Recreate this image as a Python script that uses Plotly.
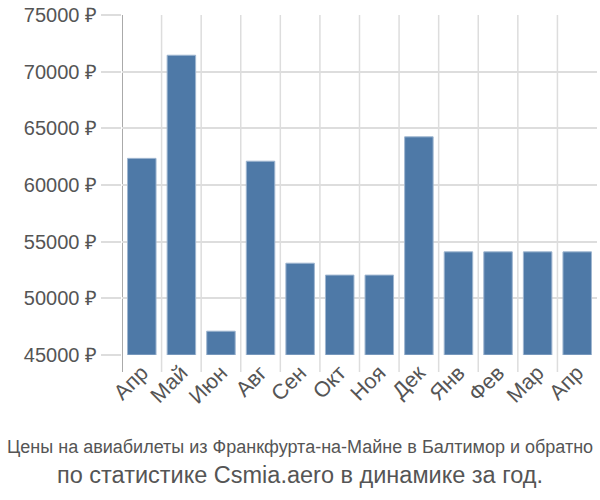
import plotly.graph_objects as go

months = ["Апр", "Май", "Июн", "Авг", "Сен", "Окт", "Ноя", "Дек", "Янв", "Фев", "Мар", "Апр"]
prices = [62350, 71450, 47100, 62100, 53100, 52050, 52050, 64250, 54100, 54100, 54100, 54100]
x_idx = list(range(len(months)))
y_ticks = [45000, 50000, 55000, 60000, 65000, 70000, 75000]

fig = go.Figure()
fig.add_trace(go.Bar(
    x=x_idx, y=[p - 45000 for p in prices], base=45000,
    marker=dict(color="#4e79a7", line=dict(color="#9fb6d0", width=1)),
    width=0.72,
))

fig.update_layout(
    width=600, height=500,
    margin=dict(l=122, r=3, t=15, b=145),
    plot_bgcolor="white", paper_bgcolor="white",
    showlegend=False,
    font=dict(family="Liberation Sans, Arial, sans-serif", color="#555555"),
)
fig.update_xaxes(
    tickmode="array", tickvals=x_idx, ticktext=months,
    range=[-0.5, len(months) - 0.5],
    tickangle=-45, tickfont=dict(size=21.5, color="#555555"),
    showgrid=False, showline=False, ticks="",
)
for b in range(len(months)):
    fig.add_shape(type="line", xref="x", yref="paper",
                  x0=b - 0.5, x1=b - 0.5, y0=-0.05, y1=1,
                  line=dict(color="#aaaaaa" if b == 0 else "#dddddd", width=2 if b == 0 else 1.5),
                  layer="below")
fig.update_yaxes(
    range=[45000, 75000], tickvals=y_ticks,
    ticktext=[f"{v} ₽" for v in y_ticks],
    tickfont=dict(size=20, color="#555555"),
    showgrid=True, gridcolor="#dddddd", gridwidth=1.5,
    ticks="outside", ticklen=20, tickcolor="#dddddd", tickwidth=1.5,
    zeroline=False, showline=False,
)
xc = (300 - 122) / 475
fig.add_annotation(text="Цены на авиабилеты из Франкфурта-на-Майне в Балтимор и обратно",
                   xref="paper", yref="paper", x=xc, xanchor="center",
                   y=-0.272, yanchor="middle", showarrow=False,
                   font=dict(family="Liberation Sans, Arial, sans-serif", size=18, color="#555555"))
fig.add_annotation(text="по статистике Csmia.aero в динамике за год.",
                   xref="paper", yref="paper", x=xc, xanchor="center",
                   y=-0.352, yanchor="middle", showarrow=False,
                   font=dict(family="Liberation Sans, Arial, sans-serif", size=23.5, color="#555555"))
fig.write_html("out.html")
